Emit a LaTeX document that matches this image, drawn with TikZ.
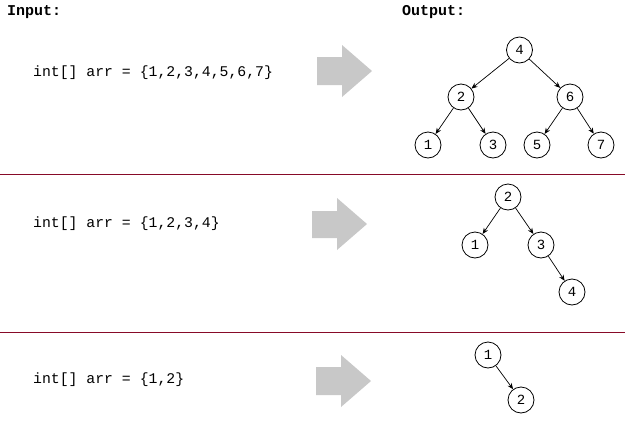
\documentclass[tikz,border=0pt]{standalone}
\usepackage{fontspec}
\setmonofont{Liberation Mono}
\usetikzlibrary{arrows.meta}
\definecolor{sepred}{RGB}{135,10,40}
\definecolor{arrgray}{RGB}{200,200,200}
\tikzset{
  tn/.style={draw=black, line width=0.8pt, circle, minimum size=26pt, inner sep=0pt, fill=white,
    font=\ttfamily\fontsize{14}{14}\selectfont},
  edge/.style={-{Stealth[length=6pt,width=5pt]}, line width=0.7pt, black},
  code/.style={anchor=west, inner sep=0pt, font=\ttfamily\fontsize{14.8}{16}\selectfont},
  head/.style={anchor=west, inner sep=0pt, font=\ttfamily\bfseries\fontsize{15}{16}\selectfont},
  sep/.style={draw=sepred, line width=1pt},
  bigarrow/.style={fill=arrgray, draw=none}
}
\begin{document}
\begin{tikzpicture}[x=1pt,y=-1pt]
\useasboundingbox (0,0) rectangle (625,421);
\fill[white] (0,0) rectangle (625,421);
% headings
\node[head] (hin) at (7,12) {Input:};
\node[head] (hout) at (402,12) {Output:};
% separators
\coordinate (s1a) at (0,174); \coordinate (s1b) at (625,174);
\coordinate (s2a) at (0,332); \coordinate (s2b) at (625,332);
\draw[sep] (s1a) -- (s1b);
\draw[sep] (s2a) -- (s2b);
% code
\node[code] (c1) at (33,73) {int[] arr = \{1,2,3,4,5,6,7\}};
\node[code] (c2) at (33,224) {int[] arr = \{1,2,3,4\}};
\node[code] (c3) at (33,380) {int[] arr = \{1,2\}};
% big arrows
\fill[bigarrow] (317,57) -- (342,57) -- (342,45) -- (372,71) -- (342,97) -- (342,85) -- (317,85) -- cycle;
\fill[bigarrow] (312,211) -- (337,211) -- (337,198) -- (367,224) -- (337,250) -- (337,238) -- (312,238) -- cycle;
\fill[bigarrow] (316,367) -- (341,367) -- (341,355) -- (371,381) -- (341,407) -- (341,395) -- (316,395) -- cycle;
% tree 1
\node[tn] (a4) at (519.5,50) {4};
\node[tn] (a2) at (461,97) {2};
\node[tn] (a6) at (570,97) {6};
\node[tn] (a1) at (428,145) {1};
\node[tn] (a3) at (493,145) {3};
\node[tn] (a5) at (537,145) {5};
\node[tn] (a7) at (601,145) {7};
\draw[edge] (a4) -- (a2);
\draw[edge] (a4) -- (a6);
\draw[edge] (a2) -- (a1);
\draw[edge] (a2) -- (a3);
\draw[edge] (a6) -- (a5);
\draw[edge] (a6) -- (a7);
% tree 2
\node[tn] (b2) at (508,197) {2};
\node[tn] (b1) at (475,245) {1};
\node[tn] (b3) at (541,245) {3};
\node[tn] (b4) at (572,292) {4};
\draw[edge] (b2) -- (b1);
\draw[edge] (b2) -- (b3);
\draw[edge] (b3) -- (b4);
% tree 3
\node[tn] (d1) at (488,355) {1};
\node[tn] (d2) at (521,400) {2};
\draw[edge] (d1) -- (d2);
\end{tikzpicture}
\end{document}
